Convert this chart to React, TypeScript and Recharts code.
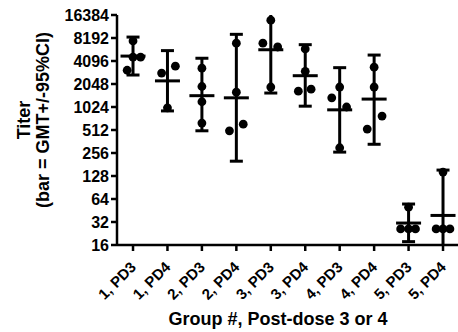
import { ComposedChart, ErrorBar, Scatter, XAxis, YAxis } from 'recharts'

// group labels along the x axis
const groups = ['1, PD3', '1, PD4', '2, PD3', '2, PD4', '3, PD3', '3, PD4', '4, PD3', '4, PD4', '5, PD3', '5, PD4']

// individual titers per group
const dotTiters = [
    [7500, 4600, 4600, 3100],
    [2850, 3500, 1000],
    [3300, 1900, 1200, 630],
    [7000, 1600, 500, 610],
    [14000, 7000, 6250, 1870],
    [5900, 3000, 1650, 1750],
    [1870, 1350, 1024, 300],
    [3400, 1870, 780, 526],
    [50, 26, 26, 26],
    [144, 26, 26, 26],
]

// horizontal spread of overlapping points (in category units)
const dotJitter = [
    [0, 0, 0.22, -0.17],
    [-0.17, 0.23, 0],
    [0, 0, 0, 0],
    [0, 0, -0.2, 0.2],
    [0, -0.23, 0.2, 0],
    [0, 0, -0.2, 0.17],
    [0, -0.23, 0.2, 0],
    [0, 0, 0.23, -0.2],
    [0, -0.23, 0, 0.2],
    [0, -0.2, 0, 0.2],
]

// geometric mean titer and 95% CI per group
const gmt = [4750, 2250, 1440, 1350, 5750, 2630, 940, 1300, 31, 39]
const ciLow = [2685, 910, 500, 200, 1560, 1050, 263, 333, 17.7, 10.5]
const ciHigh = [8424, 5600, 4450, 9150, 21000, 6700, 3350, 4900, 55, 153]

const yTicks = [16, 32, 64, 128, 256, 512, 1024, 2048, 4096, 8192, 16384]
const Y_MIN = 16
const Y_MAX = 16384

const FONT = '"Liberation Sans", Arial, Helvetica, sans-serif'

const dots = groups.flatMap((_, i) =>
    dotTiters[i].map((t, j) => ({ x: i + dotJitter[i][j], y: t }))
)

// the CI stem is cut at the axis range, like the original plot does
const summary = groups.map((_, i) => ({
    x: i,
    y: gmt[i],
    err: [gmt[i] - Math.max(ciLow[i], Y_MIN), Math.min(ciHigh[i], Y_MAX) - gmt[i]],
}))

// caps only where the CI end is inside the plotted range
const caps = groups.flatMap((_, i) => [
    ...(ciHigh[i] <= Y_MAX ? [{ x: i, y: ciHigh[i] }] : []),
    ...(ciLow[i] >= Y_MIN ? [{ x: i, y: ciLow[i] }] : []),
])

const XTick = ({ x, y, payload }: any) => (
    <text
        x={x + 4}
        y={y + 15}
        transform={`rotate(-45, ${x + 4}, ${y + 15})`}
        textAnchor="end"
        fontFamily={FONT}
        fontWeight="bold"
        fontSize={15}
        fill="#000"
    >
        {groups[payload.value]}
    </text>
)

const YLabel = () => (
    <g fontFamily={FONT} fontWeight="bold" fontSize={18} fill="#000">
        <text transform="rotate(-90, 30, 120)" x={30} y={120} textAnchor="middle">Titer</text>
        <text transform="rotate(-90, 49, 120)" x={49} y={120} textAnchor="middle">(bar = GMT+/-95%CI)</text>
    </g>
)

const XLabel = () => (
    <text x={278} y={325} textAnchor="middle" fontFamily={FONT} fontWeight="bold" fontSize={18} fill="#000">
        Group #, Post-dose 3 or 4
    </text>
)

const GmtBar = (p: any) => (
    <line x1={p.cx - 12.5} x2={p.cx + 12.5} y1={p.cy} y2={p.cy} stroke="#000" strokeWidth={3} />
)

const Cap = (p: any) => (
    <line x1={p.cx - 6.5} x2={p.cx + 6.5} y1={p.cy} y2={p.cy} stroke="#000" strokeWidth={3} />
)

const Dot = (p: any) => <circle cx={p.cx} cy={p.cy} r={4.4} fill="#000" />

export default function App() {
    return (
        <div style={{ position: 'absolute', left: 0, top: 0, background: '#fff' }}>
            <ComposedChart width={458} height={332} margin={{ top: 15, right: 0, bottom: 0, left: 0 }}>
                <XAxis
                    type="number"
                    dataKey="x"
                    domain={[-0.465, 9.435]}
                    ticks={[0, 1, 2, 3, 4, 5, 6, 7, 8, 9]}
                    allowDataOverflow
                    height={87}
                    tickSize={6}
                    axisLine={{ stroke: '#000', strokeWidth: 2.5 }}
                    tickLine={{ stroke: '#000', strokeWidth: 2.5 }}
                    tick={<XTick />}
                    interval={0}
                    label={<XLabel />}
                />
                <YAxis
                    type="number"
                    dataKey="y"
                    scale="log"
                    domain={[Y_MIN, Y_MAX]}
                    ticks={yTicks}
                    allowDataOverflow
                    width={117}
                    tickSize={6}
                    axisLine={{ stroke: '#000', strokeWidth: 2.5 }}
                    tickLine={{ stroke: '#000', strokeWidth: 2.5 }}
                    tick={{ fill: '#000', fontSize: 16, fontWeight: 'bold', fontFamily: FONT }}
                    interval={0}
                    label={<YLabel />}
                />
                <Scatter data={summary} shape={<GmtBar />} isAnimationActive={false}>
                    <ErrorBar dataKey="err" direction="y" width={0} stroke="#000" strokeWidth={3} isAnimationActive={false} />
                </Scatter>
                <Scatter data={caps} shape={<Cap />} isAnimationActive={false} />
                <Scatter data={dots} shape={<Dot />} isAnimationActive={false} />
            </ComposedChart>
        </div>
    )
}
